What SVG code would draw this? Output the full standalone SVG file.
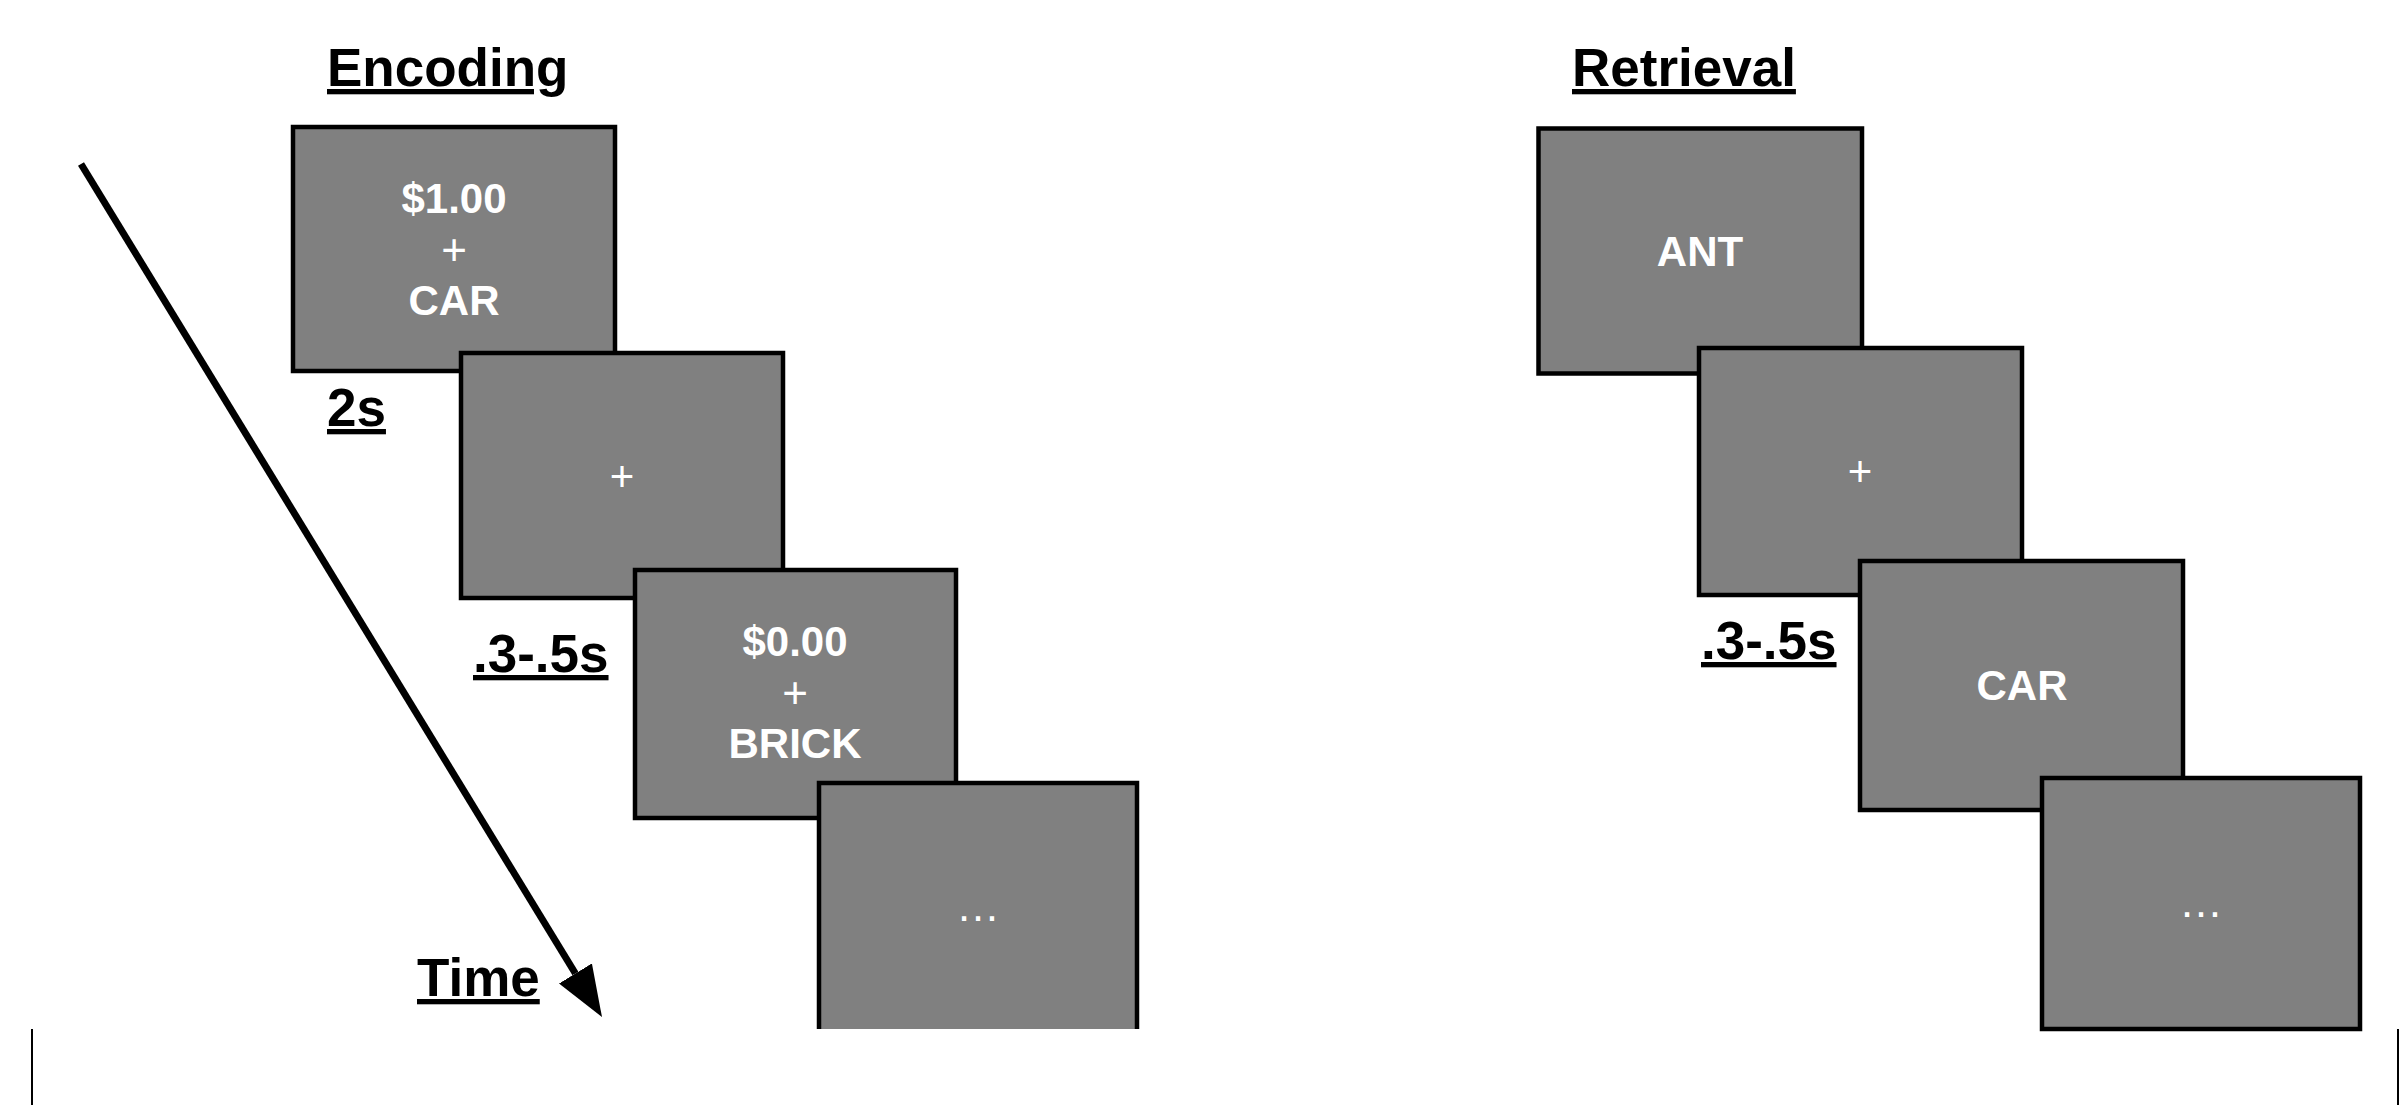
<svg xmlns="http://www.w3.org/2000/svg" width="2408" height="1105" viewBox="0 0 2408 1105">
  <style>
    .screen { fill: #808080; stroke: #000000; stroke-width: 4.5; stroke-linejoin: miter; }
    .fill { fill: #808080; }
    .edge { fill: none; stroke: #000000; stroke-width: 4.5; }
    .stim { font-family: "Liberation Sans", Arial, sans-serif; font-weight: bold; font-size: 42px; fill: #ffffff; text-anchor: middle; }
    .plus { font-family: "Liberation Sans", Arial, sans-serif; font-weight: normal; font-size: 44px; fill: #ffffff; text-anchor: middle; }
    .thin { font-family: "Liberation Sans", Arial, sans-serif; font-weight: normal; font-size: 42px; fill: #ffffff; text-anchor: middle; }
    .dots { font-family: "Liberation Sans", Arial, sans-serif; font-weight: normal; font-size: 44px; fill: #ffffff; text-anchor: middle; }
    .label { font-family: "Liberation Sans", Arial, sans-serif; font-weight: bold; font-size: 53px; fill: #000000; text-decoration: underline; }
    .border { stroke: #000000; stroke-width: 2; }
  </style>
  <defs>
    <marker id="arrowhead" viewBox="0 0 51 38.6" refX="0" refY="19.3" markerWidth="51" markerHeight="38.6" markerUnits="userSpaceOnUse" orient="auto">
      <path d="M0,0 L51,19.3 L0,38.6 Z" fill="#000000"/>
    </marker>
  </defs>
  <rect x="0" y="0" width="2408" height="1105" fill="#ffffff"/>

  <g id="titles">
    <text id="title-encoding" class="label" x="327" y="86">Encoding</text>
    <text id="title-retrieval" class="label" x="1572" y="86">Retrieval</text>
  </g>

  <g id="connectors">
    <line id="time-arrow" x1="81" y1="164" x2="575.4" y2="973.5" stroke="#000000" stroke-width="7" marker-end="url(#arrowhead)"/>
  </g>

  <g id="time-label">
    <text class="label" x="417" y="996">Time</text>
  </g>

  <g id="enc-screen-1">
    <rect class="screen" x="293" y="127" width="322" height="244"/>
    <text class="stim" x="454" y="213">$1.00</text>
    <text class="plus" x="454" y="265">+</text>
    <text class="stim" x="454" y="315">CAR</text>
  </g>
  <g id="enc-duration-1">
    <text class="label" x="327" y="426">2s</text>
  </g>
  <g id="enc-screen-2">
    <rect class="screen" x="461" y="353" width="322" height="245"/>
    <text class="thin" x="622" y="491">+</text>
  </g>
  <g id="enc-duration-2">
    <text class="label" x="473" y="672">.3-.5s</text>
  </g>
  <g id="enc-screen-3">
    <rect class="screen" x="635" y="570" width="321" height="248"/>
    <text class="stim" x="795" y="656">$0.00</text>
    <text class="plus" x="795" y="708">+</text>
    <text class="stim" x="795" y="758">BRICK</text>
  </g>
  <g id="enc-screen-4">
    <rect class="fill" x="819" y="783" width="318" height="246"/>
    <path class="edge" d="M819,1029 V783 H1137 V1029"/>
    <text class="dots" x="978" y="921">…</text>
  </g>

  <g id="ret-screen-1">
    <rect class="screen" x="1538.5" y="128.5" width="323.5" height="245"/>
    <text class="stim" x="1700" y="266">ANT</text>
  </g>
  <g id="ret-screen-2">
    <rect class="screen" x="1699" y="348" width="323" height="247"/>
    <text class="thin" x="1860" y="486">+</text>
  </g>
  <g id="ret-duration">
    <text class="label" x="1701" y="659">.3-.5s</text>
  </g>
  <g id="ret-screen-3">
    <rect class="screen" x="1860" y="561" width="323" height="249"/>
    <text class="stim" x="2022" y="700">CAR</text>
  </g>
  <g id="ret-screen-4">
    <rect class="screen" x="2042" y="778" width="318" height="251"/>
    <text class="dots" x="2201" y="917">…</text>
  </g>

  <g id="page-edges">
    <line class="border" x1="32" y1="1029" x2="32" y2="1105"/>
    <line class="border" x1="2398" y1="1029" x2="2398" y2="1105"/>
  </g>
</svg>
